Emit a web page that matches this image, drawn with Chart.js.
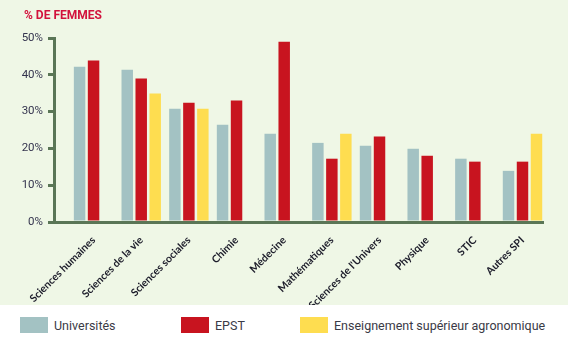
<!DOCTYPE html>
<html>
<head>
<meta charset="utf-8">
<script src="https://cdn.jsdelivr.net/npm/chart.js@4"></script>
<style>
  body { margin: 0; background: #ffffff; }
  #wrap { position: relative; width: 568px; height: 305px; background: #eff7e6; }
  #title { position: absolute; left: 24px; top: 8px; font-family: Roboto, sans-serif; font-weight: bold; font-size: 12px; color: #d2123c; }
  #legend { position: relative; height: 46px; font-family: Roboto, sans-serif; font-size: 12.5px; color: #3a3a46; }
  .item { position: absolute; top: 12px; display: flex; align-items: center; }
  .item:nth-child(1) { left: 20px; }
  .item:nth-child(2) { left: 181px; }
  .item:nth-child(3) { left: 300px; }
  .swatch { width: 28px; height: 16px; margin-right: 6px; }
</style>
</head>
<body>
<div id="wrap">
  <div id="title">% DE FEMMES</div>
  <canvas id="chart" width="568" height="305"></canvas>
</div>
<div id="legend"></div>
<script>
const categories = [
    "Sciences humaines",
    "Sciences de la vie",
    "Sciences sociales",
    "Chimie",
    "Médecine",
    "Mathématiques",
    "Sciences de l'Univers",
    "Physique",
    "STIC",
    "Autres SPI",
];
const universites = [42.2, 41.4, 30.8, 26.4, 24.0, 21.5, 20.7, 19.9, 17.2, 13.9];
const epst = [43.9, 39.0, 32.4, 33.0, 49.0, 17.2, 23.2, 18.0, 16.4, 16.4];
const agronomique = [null, 34.9, 30.8, null, null, 24.0, null, null, null, 24.0];
const yTicks = [0, 10, 20, 30, 40, 50];

const axisColor = "#5a7656";

function initChart() {
    const ctx = document.getElementById("chart").getContext("2d");
    return new Chart(ctx, {
        type: "bar",
        data: {
            labels: categories,
            datasets: [
                { label: "Universités", data: universites, backgroundColor: "#a3c2c3" },
                { label: "EPST", data: epst, backgroundColor: "#c8141f" },
                { label: "Enseignement supérieur agronomique", data: agronomique, backgroundColor: "#fedd50" },
            ],
        },
        options: {
            responsive: false,
            animation: false,
            layout: { padding: { left: 0, right: 25, top: 38, bottom: 0 } },
            datasets: {
                bar: { categoryPercentage: 0.88, barPercentage: 0.82 },
            },
            scales: {
                x: {
                    grid: { display: false },
                    border: { color: axisColor, width: 3 },
                    ticks: {
                        autoSkip: false,
                        minRotation: 45,
                        maxRotation: 45,
                        padding: 4,
                        color: "#1c1c2a",
                        font: { family: "Lato", weight: "bold", size: 10.5 },
                    },
                    // shift the categories to the right of the axis like the original
                    afterBuildTicks: (scale) => {
                        scale._startValue = -0.83;
                        scale._valueRange = 10.26;
                    },
                    afterFit: (scale) => { scale.height = 83; },
                },
                y: {
                    min: 0,
                    max: 50,
                    afterBuildTicks: (scale) => {
                        scale.ticks = yTicks.map((v) => ({ value: v }));
                    },
                    grid: { drawOnChartArea: false, drawTicks: true, tickLength: 6, lineWidth: 3, color: axisColor },
                    border: { color: axisColor, width: 3 },
                    ticks: {
                        padding: 5,
                        color: "#34344e",
                        font: { family: "Roboto", size: 11.5 },
                        callback: (v) => v + "%",
                    },
                    afterFit: (scale) => { scale.width = 54; },
                },
            },
            plugins: {
                legend: { display: false },
                tooltip: { enabled: false },
            },
        },
    });
}

function initLegend(chart) {
    const box = document.getElementById("legend");
    chart.data.datasets.forEach((ds) => {
        const item = document.createElement("div");
        item.className = "item";
        const sw = document.createElement("span");
        sw.className = "swatch";
        sw.style.background = ds.backgroundColor;
        const txt = document.createElement("span");
        txt.textContent = ds.label;
        item.appendChild(sw);
        item.appendChild(txt);
        box.appendChild(item);
    });
}

document.addEventListener("DOMContentLoaded", () => {
    const chart = initChart();
    initLegend(chart);
});
</script>
</body>
</html>
